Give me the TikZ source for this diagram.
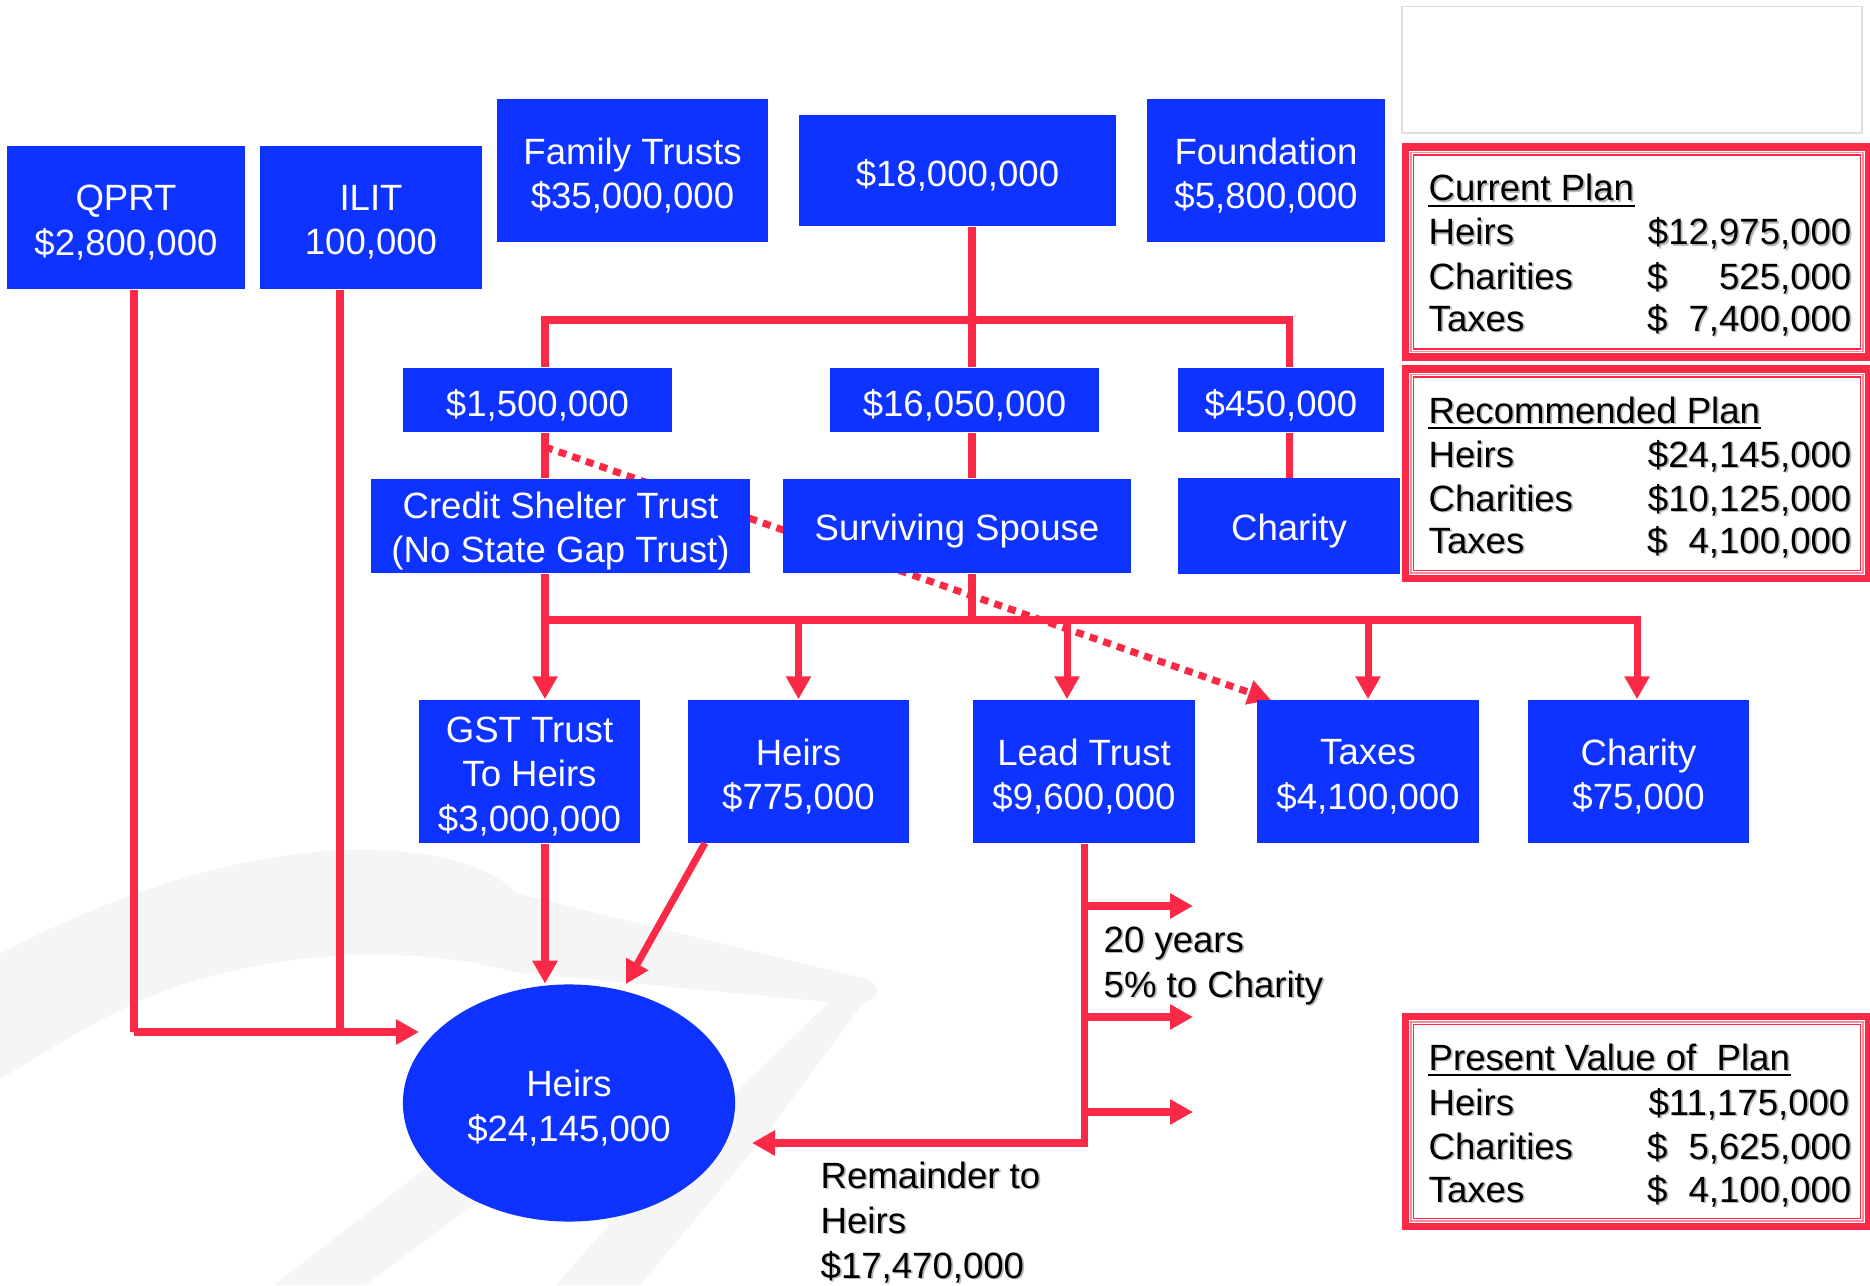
\documentclass[tikz,border=0pt]{standalone}
\usepackage{fontspec}
\setmainfont{Liberation Sans}
\usetikzlibrary{arrows.meta,shapes.geometric}
\pgfdeclarelayer{background}
\pgfsetlayers{background,main}
\definecolor{boxblue}{RGB}{14,50,255}
\definecolor{wirered}{RGB}{250,42,70}
\definecolor{swoosh}{RGB}{245,245,245}
\definecolor{framegrey}{RGB}{222,222,222}

% double red frame of a summary panel: #1,#2 top left, #3,#4 bottom right
\newcommand\planframe[4]{%
  \draw[thickframe] (#1+3.5,#2+3.5) rectangle (#3-3.5,#4-3.5);
  \draw[thinframe, draw=wirered!55] (#1+9,#2+9) rectangle (#3-9,#4-9);
  \draw[thinframe, draw=wirered] (#1+11.5,#2+11.5) rectangle (#3-11.5,#4-11.5);
}
% blue block: [shape options]{name}{centre}{width}{height}{text}
\newcommand\blk[6][]{%
  \node[blkfill,#1,minimum width=#4,minimum height=#5] (#2) at (#3) {};
  \node[blktext] (#2-text) at ([yshift=-1.4pt]#2.center) {#6};
}
% black text with a soft grey drop shadow
\newcommand\shd[1]{\rlap{\kern0.5pt\raisebox{-0.5pt}{\color{black!28}#1}}#1}
% dollar sign flush left, amount flush right, in the amount column
\newcommand\amt[1]{\makebox[2.04cm]{\$\hfill #1}}

\begin{document}
\begin{tikzpicture}[x=0.01cm,y=-0.01cm,
  txt/.style={font=\fontsize{10.4pt}{12.7pt}\selectfont},
  blkfill/.style={fill=boxblue, inner sep=0pt},
  blktext/.style={txt, text=white, align=center, inner sep=0pt},
  wire/.style={draw=wirered, line width=2pt},
  arrow/.style={wire, -{Triangle[length=0.23cm,width=0.24cm]}},
  dotwire/.style={arrow, dash pattern=on 2.3pt off 1.8pt},
  lbl/.style={txt, text=black, inner sep=0pt, anchor=base west},
  num/.style={txt, text=black, inner sep=0pt, anchor=base east},
  ul/.style={draw=black, line width=0.55pt},
  thickframe/.style={draw=wirered, line width=2pt},
  thinframe/.style={line width=0.45pt},
]
\useasboundingbox (0,0) rectangle (1870,1285);

% white page and faint watermark swoosh
\begin{pgfonlayer}{background}
  \fill[white] (0,0) rectangle (1870,1285);
  \fill[swoosh] (0,954) .. controls (120,890) and (250,850) .. (360,850)
    .. controls (440,850) and (495,868) .. (515,893) -- (862,978)
    .. controls (882,982) and (882,998) .. (862,1004)
    -- (765,1136) -- (640,1285) -- (556,1285) -- (663,1164) -- (829,1002)
    -- (515,972) .. controls (420,945) and (260,945) .. (128,1006)
    .. controls (80,1030) and (40,1055) .. (0,1079) -- cycle;
  \fill[swoosh] (274,1285) -- (430,1165) -- (500,1185) -- (365,1285) -- cycle;
\end{pgfonlayer}

% top row
\blk{qprt}{126,217.5}{2.38cm}{1.43cm}{QPRT\\\$2,800,000}
\blk{ilit}{371,217.5}{2.22cm}{1.43cm}{ILIT\\100,000}
\blk{family}{632.5,170.5}{2.71cm}{1.43cm}{Family Trusts\\\$35,000,000}
\blk{total}{957.5,170.5}{3.17cm}{1.11cm}{\$18,000,000}
\blk{found}{1266,170.5}{2.38cm}{1.43cm}{Foundation\\\$5,800,000}

% split of the estate
\blk{b15}{537.5,400}{2.69cm}{0.64cm}{\$1,500,000}
\blk{b1605}{964.5,400}{2.69cm}{0.64cm}{\$16,050,000}
\blk{b450}{1281,400}{2.06cm}{0.64cm}{\$450,000}

\blk{cst}{560.5,526}{3.79cm}{0.94cm}{Credit Shelter Trust\\(No State Gap Trust)}
\blk{spouse}{957,526}{3.48cm}{0.94cm}{Surviving Spouse}
\blk{charityA}{1289,526}{2.22cm}{0.95cm}{Charity}

% distribution row
\blk{gst}{529.5,771.5}{2.21cm}{1.43cm}{GST Trust\\To Heirs\\\$3,000,000}
\blk{heirsA}{798.5,771.5}{2.21cm}{1.43cm}{Heirs\\\$775,000}
\blk{lead}{1084,771.5}{2.22cm}{1.43cm}{Lead Trust\\\$9,600,000}
\blk{taxes}{1368,771.5}{2.22cm}{1.43cm}{Taxes\\\$4,100,000}
\blk{charityB}{1638.5,771.5}{2.21cm}{1.43cm}{Charity\\\$75,000}

% final heirs
\blk[ellipse]{heirs}{569,1103}{3.32cm}{2.37cm}{Heirs\\\$24,145,000}

% junction points
\coordinate (jA) at (545,320);
\coordinate (jB) at (972,320);
\coordinate (jC) at (1289,320);
\coordinate (kA) at (545,620);
\coordinate (kB) at (972,620);
\coordinate (kL) at (1067,620);
\coordinate (kE) at (1637,620);
\coordinate (dStart) at (545,447);
\coordinate (dEnd) at (1271,700);
\coordinate (qB) at (134,1032);
\coordinate (iB) at (340,1032);
\coordinate (qTip) at (419,1032);
\coordinate (hStart) at (705,843);
\coordinate (hTip) at (626,984);
\coordinate (rTip) at (752,1143);
\coordinate (lSplit1) at (1083,906);
\coordinate (lSplit2) at (1083,1017);
\coordinate (lSplit3) at (1083,1112);
\coordinate (lTip1) at (1193,906);
\coordinate (lTip2) at (1193,1017);
\coordinate (lTip3) at (1193,1112);

% dotted flow runs behind the boxes
\begin{pgfonlayer}{background}
  \draw[dotwire] (dStart) -- (dEnd);
\end{pgfonlayer}

% upper tree
\draw[wire] (total.south -| jB) -- (jB);
\draw[wire, line cap=rect] (jA) -- (jC);
\draw[wire] (jA) -- (b15.north -| jA);
\draw[wire] (jB) -- (b1605.north -| jB);
\draw[wire] (jC) -- (b450.north -| jC);
\draw[wire] (b15.south -| jA) -- (cst.north -| jA);
\draw[wire] (b1605.south -| jB) -- (spouse.north -| jB);
\draw[wire] (b450.south -| jC) -- (charityA.north -| jC);

% lower tree
\draw[wire] (cst.south -| kA) -- (kA);
\draw[wire] (spouse.south -| kB) -- (kB);
\draw[wire, line cap=rect] (kA) -- (kE);
\draw[arrow] (kA) -- (gst.north -| kA);
\draw[arrow] (heirsA.north |- kA) -- (heirsA.north);
\draw[arrow] (kL) -- (lead.north -| kL);
\draw[arrow] (taxes.north |- kA) -- (taxes.north);
\draw[arrow] (kE) -- (charityB.north -| kE);

% flows into the heirs
\draw[wire] (qprt.south -| qB) -- (qB);
\draw[wire] (ilit.south -| iB) -- (iB);
\draw[arrow] (qB) -- (qTip);
\draw[arrow] (gst.south -| kA) -- (heirs.north -| kA);
\draw[arrow] (hStart) -- (hTip);
\draw[arrow] (lead.south) |- (rTip);
\draw[arrow] (lSplit1) -- (lTip1);
\draw[arrow] (lSplit2) -- (lTip2);
\draw[arrow] (lSplit3) -- (lTip3);

% labels of the lead trust
\node[lbl] (yrs) at (1103,952) {\shd{20 years}};
\node[lbl] (pct) at (1103,997) {\shd{5\% to Charity}};
\node[lbl] (rem1) at (820,1188) {\shd{Remainder to}};
\node[lbl] (rem2) at (820,1233) {\shd{Heirs}};
\node[lbl] (rem3) at (820,1278) {\shd{\$17,470,000}};

% summary panels
\draw[draw=framegrey, line width=0.4pt] (1402,6.5) rectangle (1862,133);

\planframe{1402}{143.5}{1872}{360.5}
\node[lbl] (curT) at (1428,201) {\shd{Current Plan}};
\draw[ul] ([yshift=-1.3pt]curT.base west) -- ([yshift=-1.3pt]curT.base east);
\node[lbl] (curH) at (1428,245) {\shd{Heirs}};
\node[num] (curHv) at (1852,245) {\shd{\$12,975,000}};
\node[lbl] (curC) at (1428,289) {\shd{Charities}};
\node[num] (curCv) at (1852,289) {\shd{\amt{525,000}}};
\node[lbl] (curX) at (1428,331) {\shd{Taxes}};
\node[num] (curXv) at (1852,331) {\shd{\amt{7,400,000}}};

\planframe{1402}{365.5}{1872}{582}
\node[lbl] (recT) at (1428,423) {\shd{Recommended Plan}};
\draw[ul] ([yshift=-1.3pt]recT.base west) -- ([yshift=-1.3pt]recT.base east);
\node[lbl] (recH) at (1428,467) {\shd{Heirs}};
\node[num] (recHv) at (1852,467) {\shd{\$24,145,000}};
\node[lbl] (recC) at (1428,511) {\shd{Charities}};
\node[num] (recCv) at (1852,511) {\shd{\$10,125,000}};
\node[lbl] (recX) at (1428,553) {\shd{Taxes}};
\node[num] (recXv) at (1852,553) {\shd{\amt{4,100,000}}};

\planframe{1402}{1013}{1872}{1230}
\node[lbl] (pvT) at (1428,1070) {\shd{Present Value of\ \ Plan}};
\draw[ul] ([yshift=-1.3pt]pvT.base west) -- ([yshift=-1.3pt]pvT.base east);
\node[lbl] (pvH) at (1428,1115) {\shd{Heirs}};
\node[num] (pvHv) at (1850,1115) {\shd{\$11,175,000}};
\node[lbl] (pvC) at (1428,1159) {\shd{Charities}};
\node[num] (pvCv) at (1852,1159) {\shd{\amt{5,625,000}}};
\node[lbl] (pvX) at (1428,1202) {\shd{Taxes}};
\node[num] (pvXv) at (1852,1202) {\shd{\amt{4,100,000}}};
\end{tikzpicture}
\end{document}
